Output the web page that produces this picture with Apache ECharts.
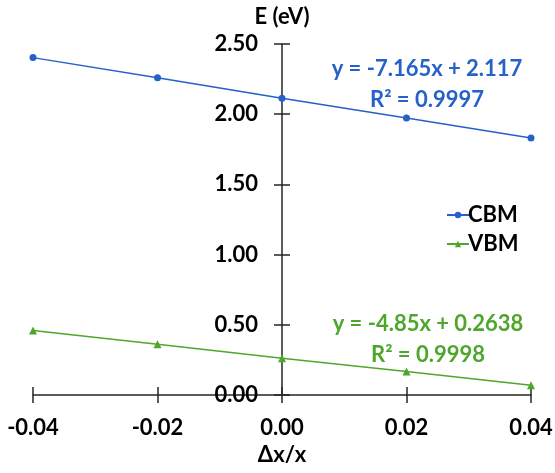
<!DOCTYPE html>
<html>
<head>
<meta charset="utf-8">
<script src="https://cdn.jsdelivr.net/npm/echarts@6/dist/echarts.min.js"></script>
<style>
html,body{margin:0;padding:0;background:#fff;}
#c{width:555px;height:473px;}
</style>
</head>
<body>
<div id="c"></div>
<script>
const xValues = [-0.04, -0.02, 0.00, 0.02, 0.04];
const cbmValues = [2.403, 2.260, 2.114, 1.973, 1.831];
const vbmValues = [0.459, 0.361, 0.262, 0.167, 0.070];
const seriesNames = ['CBM', 'VBM'];
const cbmEquation = ['y = -7.165x + 2.117', 'R² = 0.9997'];
const vbmEquation = ['y = -4.85x + 0.2638', 'R² = 0.9998'];
const xAxisName = 'Δx/x';
const yAxisName = 'E (eV)';

const FONT = 'Lato';
const BLUE = '#2561c9';
const GREEN = '#4ea72c';
const AXIS = '#262626';

const chart = echarts.init(document.getElementById('c'), null, {renderer: 'canvas'});

function pairs(xs, ys) { return xs.map((x, i) => [x, ys[i]]); }

const GRID_L = 33, GRID_R = 24;
const PLOT_W = 555 - GRID_L - GRID_R;
const Y_OFF = -PLOT_W / 2;  // put the y axis at x = 0 (middle of the -0.04..0.04 range)

const baseX = {
  type: 'value', min: -0.04, max: 0.04, interval: 0.02,
  splitLine: {show: false}
};
const baseY = {
  type: 'value', min: 0, max: 2.5, interval: 0.5,
  splitLine: {show: false}
};

chart.setOption({
  backgroundColor: '#fff',
  animation: false,
  grid: {left: GRID_L, right: GRID_R, top: 44, bottom: 78, containLabel: false, outerBoundsMode: 'none'},
  xAxis: [
    Object.assign({}, baseX, {
      position: 'bottom',
      name: xAxisName, nameLocation: 'middle', nameGap: 45,
      nameTextStyle: {fontFamily: FONT, fontWeight: 'bold', fontSize: 22, color: '#000'},
      axisLine: {show: true, onZero: false, lineStyle: {color: AXIS, width: 1.5}},
      axisTick: {show: true, inside: false, length: 8, lineStyle: {color: AXIS, width: 1.5}},
      axisLabel: {show: true, margin: 22, fontFamily: FONT, fontWeight: 'bold', fontSize: 22, color: '#000',
        formatter: v => v.toFixed(2)}
    }),
    Object.assign({}, baseX, {
      position: 'bottom',
      axisLine: {show: false, onZero: false},
      axisTick: {show: true, inside: true, length: 8, lineStyle: {color: AXIS, width: 1.5}},
      axisLabel: {show: false}
    })
  ],
  yAxis: [
    Object.assign({}, baseY, {
      position: 'left', offset: Y_OFF,
      name: yAxisName, nameLocation: 'end', nameGap: 16,
      nameTextStyle: {fontFamily: FONT, fontWeight: 'bold', fontSize: 22, color: '#000', align: 'center'},
      axisLine: {show: true, onZero: false, lineStyle: {color: AXIS, width: 1.5}},
      axisTick: {show: true, inside: false, length: 8, lineStyle: {color: AXIS, width: 1.5}},
      axisLabel: {show: true, margin: 24, fontFamily: FONT, fontWeight: 'bold', fontSize: 22, color: '#000',
        formatter: v => v.toFixed(2)}
    }),
    Object.assign({}, baseY, {
      position: 'left', offset: Y_OFF,
      axisLine: {show: false, onZero: false},
      axisTick: {show: true, inside: true, length: 8, lineStyle: {color: AXIS, width: 1.5}},
      axisLabel: {show: false}
    })
  ],
  legend: {
    orient: 'vertical', left: 441, top: 199,
    itemWidth: 22, itemHeight: 8, itemGap: 7,
    textStyle: {fontFamily: FONT, fontWeight: 'bold', fontSize: 22, color: '#000', padding: [0,0,0,-6]},
    data: seriesNames
  },
  series: [
    {
      name: seriesNames[0], type: 'line', xAxisIndex: 0, yAxisIndex: 0,
      data: pairs(xValues, cbmValues),
      symbol: 'circle', symbolSize: 7,
      lineStyle: {color: BLUE, width: 1.5}, itemStyle: {color: BLUE}
    },
    {
      name: seriesNames[1], type: 'line', xAxisIndex: 0, yAxisIndex: 0,
      data: pairs(xValues, vbmValues),
      symbol: 'triangle', symbolSize: 8,
      lineStyle: {color: GREEN, width: 1.5}, itemStyle: {color: GREEN}
    }
  ],
  graphic: [
    {type: 'text', x: 427, y: 69, style: {text: cbmEquation[0], fill: BLUE, font: 'bold 22px ' + FONT, textAlign: 'center', textVerticalAlign: 'middle'}},
    {type: 'text', x: 427, y: 100, style: {text: cbmEquation[1], fill: BLUE, font: 'bold 22px ' + FONT, textAlign: 'center', textVerticalAlign: 'middle'}},
    {type: 'text', x: 428, y: 324, style: {text: vbmEquation[0], fill: GREEN, font: 'bold 22px ' + FONT, textAlign: 'center', textVerticalAlign: 'middle'}},
    {type: 'text', x: 428, y: 355, style: {text: vbmEquation[1], fill: GREEN, font: 'bold 22px ' + FONT, textAlign: 'center', textVerticalAlign: 'middle'}}
  ]
});
</script>
</body>
</html>
